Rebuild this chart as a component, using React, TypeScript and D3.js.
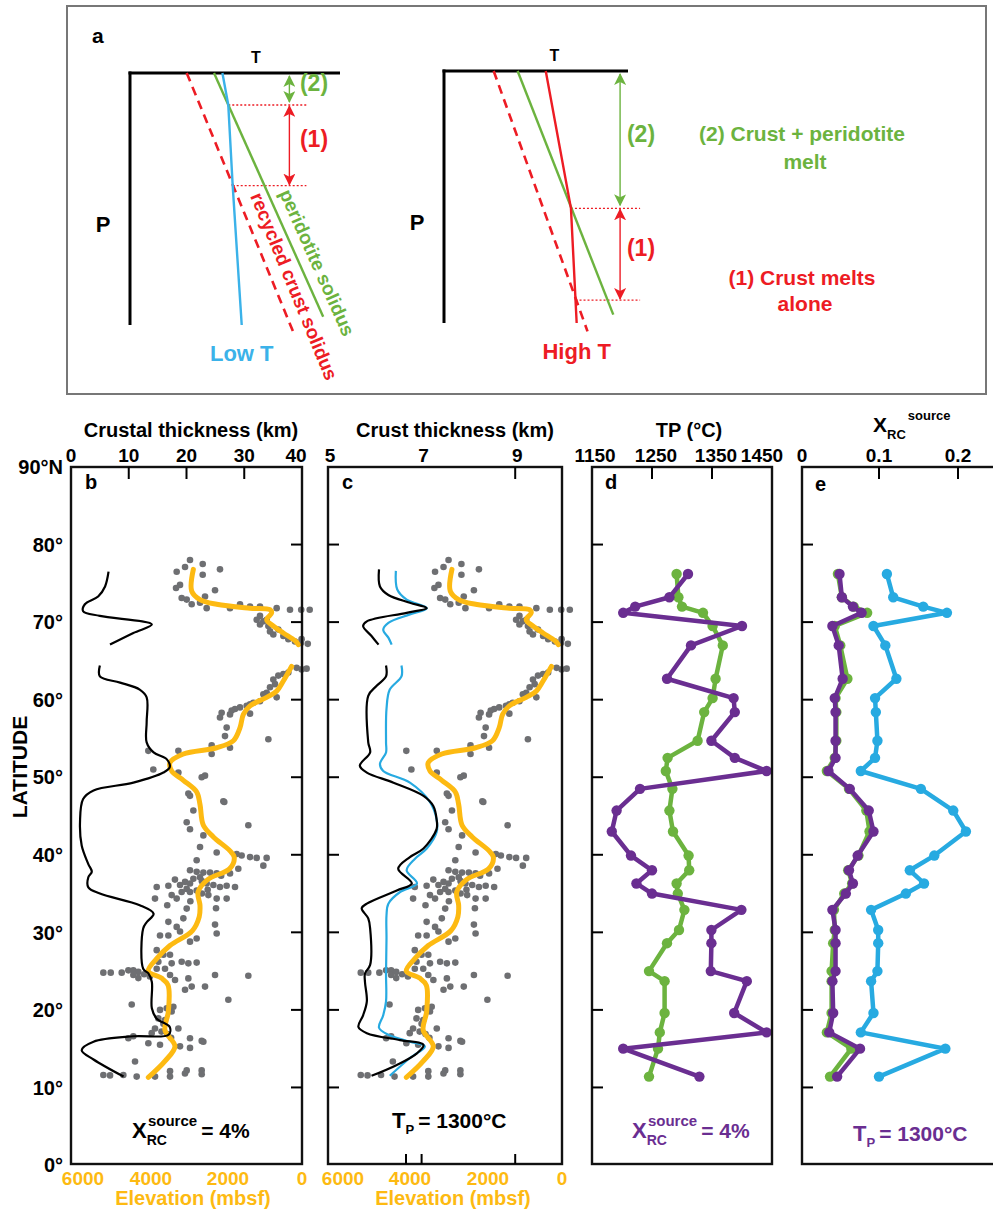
import * as d3 from "d3";

const FONT = "'Liberation Sans', Arial, Helvetica, sans-serif";
const ORANGE = "#FDBA12";
const GRAY = "#6E6F72";
const BLUE = "#27AAE1";
const GREEN = "#6CB33F";
const PURPLE = "#6A2E91";
const RED = "#ED1C24";

type Pt = [number, number];

// ---- panel a: schematic, normalized T (0-1) and P (0-1)
const peridotiteSolidus: Pt[] = [[0.4, 0], [0.92, 0.967]];
const crustSolidus: Pt[] = [[0.27, 0], [0.78, 1.033]];
const lowTGeotherm: Pt[] = [[0.44, 0], [0.468, 0.127], [0.489, 0.447], [0.532, 1]];
const highTGeotherm: Pt[] = [[0.553, 0], [0.69, 0.545], [0.721, 1]];
const lowTLevels = [0.127, 0.447];
const highTLevels = [0.545, 0.909];

// ---- latitude axis
const latTicks = [10, 20, 30, 40, 50, 60, 70, 80];
const latLabels = [0, 10, 20, 30, 40, 50, 60, 70, 80, 90];

// ---- panels b, c: ridge elevation (lat, mbsf)
const elevationSites: Pt[] = [
  [78.0, 2909], [77.5, 2579], [77.1, 3038], [76.5, 3255], [76.1, 2579], [76.8, 2130], [74.8, 3168], [74.4, 3272],
  [74.1, 2259], [73.1, 3125], [72.9, 2995], [72.3, 2865], [72.5, 2649], [71.8, 2476], [73.3, 2519], [71.8, 1870],
  [72.3, 1610], [72.0, 1350], [72.0, 1091], [71.8, 658], [71.6, 312], [71.6, 20], [71.6, -200],
  [70.8, 1091], [70.3, 1177], [70.1, 1004], [70.3, 918], [69.7, 1091], [69.5, 874], [68.8, 831], [69.05, 615],
  [68.4, 745], [68.2, 485], [67.8, 355], [67.5, 182], [67.8, 10], [67.3, 30], [67.2, -150],
  [64.1, 139], [63.9, 10], [64.0, -120], [63.5, 355], [63.3, 485], [63.1, 615], [62.6, 745], [62.0, 701], [61.6, 831],
  [60.9, 918], [60.7, 1004], [60.3, 658], [59.8, 1091], [59.6, 1264], [59.4, 1350], [59.2, 1437], [59.0, 1610],
  [58.8, 1740], [58.6, 1827], [58.1, 1870], [58.3, 2087], [57.7, 2130], [58.2, 1350], [56.4, 1957], [55.3, 2000],
  [53.8, 1870], [54.1, 2346], [53.0, 2346], [53.4, 3211], [54.9, 874], [50.2, 2519], [47.9, 2952], [50.6, 3211],
  [53.4, 3992], [51.0, 3862], [50.0, 2605], [47.6, 2909], [46.8, 2018],
  [46.9, 2043], [45.7, 2822], [44.2, 2995], [43.3, 2909], [43.8, 1394], [42.5, 2562], [41.0, 2649], [40.3, 2216],
  [40.1, 1697], [39.9, 1567], [39.7, 1350], [39.6, 1177], [39.6, 918], [38.6, 1004], [39.3, 2736], [38.2, 1654],
  [37.6, 1870], [38.0, 2909], [37.8, 2736], [37.7, 2562], [37.7, 2389], [37.6, 2216], [37.1, 2649], [36.9, 2822],
  [35.85, 3774], [36.0, 3471], [36.1, 3168], [36.5, 3038], [36.3, 2909], [35.6, 2995], [35.2, 3125], [35.2, 2909],
  [35.4, 2736], [36.3, 2476], [36.1, 2302], [35.85, 2130], [36.0, 1957], [35.85, 1740], [34.8, 3385], [34.35, 3818],
  [34.35, 3255], [34.8, 2432], [34.35, 2216], [34.35, 1957], [33.1, 2233], [33.06, 2995], [31.8, 3082], [31.35, 3471],
  [30.7, 3255], [29.6, 3688], [29.6, 3471], [28.8, 2909], [29.2, 2736], [30.1, 3168], [31.0, 2259], [29.85, 2216],
  [36.8, 3300], [36.6, 2600], [35.5, 2450], [37.3, 2100], [35.0, 2600], [34.0, 2900], [33.5, 3500],
  [27.7, 3774], [27.1, 3601], [27.1, 3428], [26.2, 3731], [26.0, 3385], [26.2, 3125], [26.0, 2952], [26.1, 2736],
  [25.3, 3774], [25.3, 3558], [24.5, 3428], [24.5, 2259], [24.4, 1394], [24.8, 5160], [24.8, 4968], [24.8, 4683],
  [25.1, 4510], [25.1, 4381], [24.9, 4251], [24.5, 4381], [24.1, 4251], [24.3, 3950], [24.6, 4100], [23.85, 3298],
  [24.06, 2952], [23.0, 2519], [23.0, 2865], [22.6, 3038], [21.3, 1913], [20.7, 4423], [20.0, 3688], [20.2, 3514],
  [20.4, 3341], [19.8, 3385], [18.9, 3731], [18.7, 3558], [17.6, 3818], [17.6, 3211], [17.0, 3904], [17.2, 3650],
  [16.9, 3500], [16.4, 3400], [18.2, 3600], [16.6, 4381], [16.35, 4510], [16.35, 2909], [15.9, 2562], [15.7, 3991],
  [15.5, 3688], [15.3, 3168], [15.1, 2909], [16.0, 2605], [13.35, 4337], [11.6, 5160], [11.55, 4986], [11.6, 4640],
  [11.4, 4294], [11.4, 3818], [12.1, 3428], [11.4, 3428], [12.2, 2995], [12.2, 2606], [11.8, 3039], [11.7, 2605],
];

// smoothed elevation (lat, mbsf), two segments
const elevationNorth: Pt[] = [
  [76.8, 2822], [74.0, 2865], [72.9, 2649], [72.3, 2216], [71.8, 1350], [71.6, 831], [71.2, 788], [70.3, 918],
  [69.5, 745], [68.6, 485], [67.6, 182], [67.1, 95],
];
const elevationSouth: Pt[] = [
  [64.3, 268], [62.4, 485], [61.1, 658], [60.3, 918], [59.2, 1350], [58.1, 1523], [56.4, 1610], [54.7, 1783],
  [53.8, 2216], [53.0, 3082], [51.9, 3428], [50.8, 3385], [49.6, 3082], [48.1, 2735], [46.5, 2650], [43.8, 2562],
  [42.3, 2302], [40.5, 1870], [39.7, 1760], [38.2, 1880], [36.8, 2450], [35.2, 2700], [33.5, 2650], [32.0, 2670],
  [30.2, 2850], [28.3, 3429], [26.6, 3774], [25.0, 3992], [24.1, 3650], [23.2, 3480], [19.8, 3471], [17.4, 3560],
  [15.3, 3300], [13.4, 3560], [11.3, 3992],
];

// panel b: crustal thickness (lat, km), X_RC = 4%
const crustB1: Pt[] = [
  [76.5, 6.5], [74.6, 5.9], [73.3, 4.7], [72.3, 2.4], [71.4, 2.1], [70.8, 5.0], [69.7, 14.0], [68.6, 10.8], [67.1, 6.75],
];
const crustB2: Pt[] = [
  [64.4, 5.0], [63.0, 5.0], [62.2, 8.5], [61.3, 11.9], [60.3, 13.1], [57.1, 13.1], [54.5, 13.1], [53.2, 14.3],
  [52.3, 16.6], [51.3, 17.1], [50.6, 16.0], [49.3, 10.8], [48.3, 3.9], [47.2, 2.1], [44.2, 1.56], [41.2, 1.85],
  [38.8, 3.0], [37.8, 3.6], [37.1, 3.0], [35.8, 3.0], [35.0, 5.0], [33.5, 11.9], [32.4, 14.3], [31.3, 13.1],
  [30.5, 12.5], [25.3, 12.5], [24.7, 13.4], [23.6, 14.0], [20.2, 14.0], [18.9, 14.8], [17.8, 17.1], [16.8, 16.9],
  [16.6, 10.8], [15.9, 3.9], [14.8, 1.85], [13.6, 3.9], [11.4, 9.1],
];

// panel c: crust thickness (lat, km), Tp = 1300 C
const crustC1Black: Pt[] = [
  [76.8, 6.09], [74.6, 6.11], [73.5, 6.29], [72.5, 6.75], [71.8, 7.11], [71.2, 6.68], [70.1, 5.83], [69.5, 5.75],
  [68.2, 5.93], [67.1, 6.08],
];
const crustC2Black: Pt[] = [
  [64.4, 6.24], [63.0, 6.24], [61.8, 6.04], [60.5, 5.86], [54.5, 5.86], [53.2, 5.9], [51.5, 5.68], [50.6, 5.83],
  [49.3, 6.4], [47.6, 7.04], [46.3, 7.25], [44.6, 7.32], [43.3, 7.32], [40.8, 7.04], [39.7, 6.75], [38.2, 6.5],
  [36.3, 6.79], [35.4, 6.47], [33.7, 5.83], [33.1, 5.72], [31.8, 5.86], [30.5, 5.9], [25.8, 5.9], [24.7, 5.79],
  [23.6, 5.79], [21.1, 5.83], [19.3, 5.75], [17.8, 5.65], [17.0, 5.83], [16.1, 6.54], [15.5, 7.04], [14.4, 6.9],
  [12.9, 6.47], [11.5, 5.93],
];
const crustC1Blue: Pt[] = [
  [76.6, 6.45], [74.2, 6.48], [72.9, 6.68], [71.8, 7.11], [71.0, 6.75], [69.9, 6.29], [69.0, 6.18], [68.0, 6.29],
  [67.1, 6.36],
];
const crustC2Blue: Pt[] = [
  [64.4, 6.57], [63.0, 6.57], [61.3, 6.32], [58.8, 6.25], [54.5, 6.24], [53.2, 6.24], [51.7, 6.11], [50.8, 6.18],
  [49.3, 6.75], [46.8, 7.18], [44.6, 7.32], [42.9, 7.32], [40.8, 7.11], [39.5, 6.86], [38.0, 6.68], [36.3, 6.9],
  [35.2, 6.54], [33.7, 6.29], [32.2, 6.25], [29.2, 6.25], [24.7, 6.24], [21.1, 6.24], [19.3, 6.18], [17.7, 6.09],
  [16.8, 6.29], [15.9, 6.75], [15.3, 7.07], [13.8, 6.75], [11.5, 6.32],
];

// panels d, e: segment latitudes
const segmentLat = [
  76.2, 73.2, 72.0, 71.2, 69.5, 67.0, 62.7, 60.2, 58.4, 54.7, 52.5, 50.8, 48.5, 45.7, 43.0, 39.9, 38.0, 36.3,
  35.0, 32.9, 30.3, 28.6, 25.0, 23.7, 19.6, 17.1, 15.0, 11.4,
];
// panel d: mantle potential temperature (C)
const tpGreen = [
  1291, 1294, 1300, 1335, 1351, 1368, 1356, 1351, 1337, 1326, 1276, 1273, 1284, 1279, 1285, 1311, 1312, 1291,
  1293, 1304, 1295, 1275, 1245, 1271, 1271, 1263, 1260, 1245,
];
const tpPurple = [
  1310, 1279, 1222, 1202, 1400, 1315, 1275, 1386, 1388, 1349, 1388, 1441, 1230, 1191, 1183, 1215, 1250, 1224,
  1250, 1399, 1349, 1349, 1348, 1408, 1387, 1441, 1202, 1329,
];
// panel e: recycled crust fraction in source
const xrcGreen = [
  0.048, 0.053, 0.068, 0.085, 0.044, 0.051, 0.06, 0.045, 0.046, 0.046, 0.044, 0.034, 0.062, 0.084, 0.088, 0.074,
  0.061, 0.066, 0.056, 0.043, 0.044, 0.042, 0.04, 0.04, 0.04, 0.034, 0.065, 0.038,
];
const xrcPurple = [
  0.05, 0.053, 0.067, 0.078, 0.041, 0.049, 0.054, 0.044, 0.045, 0.045, 0.045, 0.036, 0.063, 0.087, 0.093, 0.073,
  0.062, 0.067, 0.058, 0.041, 0.045, 0.045, 0.045, 0.041, 0.042, 0.037, 0.076, 0.047,
];
const xrcBlue = [
  0.11, 0.118, 0.156, 0.186, 0.093, 0.108, 0.122, 0.095, 0.096, 0.098, 0.095, 0.077, 0.153, 0.194, 0.21, 0.17,
  0.139, 0.157, 0.134, 0.09, 0.099, 0.099, 0.098, 0.09, 0.093, 0.077, 0.184, 0.1,
];

const TOP = 467;
const BOTTOM = 1164;
const yLat = d3.scaleLinear().domain([0, 90]).range([1165, 467]);

function Schematic({ x0, x1, y0, y1, geotherm, levels, arrowX, labelX, geoColor, geoLabel, left }: any) {
  const t = d3.scaleLinear().domain([0, 1]).range([x0, x1]);
  const p = d3.scaleLinear().domain([0, 1]).range([y0, y1]);
  const line = d3.line<Pt>().x((d) => t(d[0])).y((d) => p(d[1]));
  const crossT = (pts: Pt[], pv: number) => {
    for (let i = 1; i < pts.length; i++) {
      const [a, b] = [pts[i - 1], pts[i]];
      if (pv >= a[1] && pv <= b[1]) return a[0] + ((pv - a[1]) / (b[1] - a[1])) * (b[0] - a[0]);
    }
    return pts[pts.length - 1][0];
  };
  const lvlEnd = t.invert(t(arrowX) + (left ? 17 : 20));
  return (
    <g>
      <line x1={t(0)} x2={t(0)} y1={p(0) - 1.5} y2={p(1)} stroke="#000" strokeWidth={3} />
      <line x1={t(0) - 1.5} x2={t(1)} y1={p(0)} y2={p(0)} stroke="#000" strokeWidth={3} />
      <text x={t(0.6)} y={p(0) - 10} fontSize={16} textAnchor="middle">T</text>
      <text x={t(0) - 27} y={p(0.6) + 8} fontSize={22} textAnchor="middle">P</text>
      {levels.map((lv: number, i: number) => (
        <line key={i} x1={t(crossT(geotherm, lv))} x2={t(lvlEnd)} y1={p(lv)} y2={p(lv)}
          stroke={RED} strokeWidth={1.3} strokeDasharray="2,2" />
      ))}
      <path d={line(crustSolidus) || ""} fill="none" stroke={RED} strokeWidth={2.6} strokeDasharray="9,6" />
      <path d={line(peridotiteSolidus) || ""} fill="none" stroke={GREEN} strokeWidth={2.4} />
      <path d={line(geotherm) || ""} fill="none" stroke={geoColor} strokeWidth={2.4} />
      <line x1={t(arrowX)} x2={t(arrowX)} y1={p(0) + 3} y2={p(levels[0]) - 3} stroke={GREEN} strokeWidth={1.4}
        markerStart="url(#ahG)" markerEnd="url(#ahG)" />
      <line x1={t(arrowX)} x2={t(arrowX)} y1={p(levels[0]) + 1} y2={p(levels[1]) - 1} stroke={RED} strokeWidth={1.4}
        markerStart="url(#ahR)" markerEnd="url(#ahR)" />
      <text x={labelX} y={(p(0) + p(levels[0])) / 2 + 2} fontSize={23} fill={GREEN} textAnchor="middle">(2)</text>
      <text x={labelX} y={(p(levels[0]) + p(levels[1])) / 2 + 2} fontSize={23} fill={RED} textAnchor="middle">(1)</text>
      <text x={t(geotherm[geotherm.length - 1][0])} y={p(1) + 36} fontSize={22} fill={geoColor} textAnchor="middle">{geoLabel}</text>
    </g>
  );
}

function LatTicks({ x, dir }: { x: number; dir: number }) {
  return (
    <g>
      {latTicks.map((v) => (
        <line key={v} x1={x} x2={x + dir * 11} y1={yLat(v)} y2={yLat(v)} stroke="#000" strokeWidth={2} />
      ))}
    </g>
  );
}

function TopTicks({ scale, values }: any) {
  return (
    <g>
      {values.map((v: number) => (
        <line key={v} x1={scale(v)} x2={scale(v)} y1={TOP} y2={TOP + 12} stroke="#000" strokeWidth={2} />
      ))}
    </g>
  );
}

function Frame({ x0, x1 }: { x0: number; x1: number }) {
  return <rect x={x0} y={TOP} width={x1 - x0} height={BOTTOM - TOP} fill="none" stroke="#111" strokeWidth={2.4} />;
}

function ElevationPanel({ xElev, xThick, lines }: any) {
  const elevLine = d3.line<Pt>().x((d) => xElev(d[1])).y((d) => yLat(d[0])).curve(d3.curveCatmullRom.alpha(0.5));
  const thickLine = d3.line<Pt>().x((d) => xThick(d[1])).y((d) => yLat(d[0])).curve(d3.curveCatmullRom.alpha(0.5));
  return (
    <g>
      {elevationSites.map((d, i) => (
        <circle key={i} cx={xElev(d[1])} cy={yLat(d[0])} r={3.3} fill={GRAY} />
      ))}
      {[elevationNorth, elevationSouth].map((seg, i) => (
        <path key={i} d={elevLine(seg) || ""} fill="none" stroke={ORANGE} strokeWidth={5} strokeLinecap="round" />
      ))}
      {lines.map((l: any, i: number) => (
        <path key={i} d={thickLine(l.data) || ""} fill="none" stroke={l.color} strokeWidth={2.2} />
      ))}
    </g>
  );
}

function ProfilePanel({ xs, series }: any) {
  const line = d3.line<number>().x((d) => xs(d)).y((_d, i) => yLat(segmentLat[i]));
  return (
    <g>
      {series.map((s: any, k: number) => (
        <g key={k}>
          <path d={line(s.values) || ""} fill="none" stroke={s.color} strokeWidth={4.5} strokeLinejoin="round" />
          {s.values.map((v: number, i: number) => (
            <circle key={i} cx={xs(v)} cy={yLat(segmentLat[i])} r={5.2} fill={s.color} />
          ))}
        </g>
      ))}
    </g>
  );
}

export default function App() {
  const xThickB = d3.scaleLinear().domain([0, 40]).range([71, 302]);
  const xElevB = d3.scaleLinear().domain([6000, 0]).range([71, 302]);
  const xThickC = d3.scaleLinear().domain([5, 10]).range([328, 562]);
  const xElevC = d3.scaleLinear().domain([6000, 0]).range([328, 562]);
  const xTP = d3.scaleLinear().domain([1150, 1450]).range([592, 772]);
  const xXrc = d3.scaleLinear().domain([0, 0.25]).range([800, 997.5]);

  return (
    <svg width={993} height={1211} style={{ position: "absolute", left: 0, top: 0, background: "#fff" }}
      fontFamily={FONT} fontWeight="bold">
      <defs>
        <marker id="ahR" viewBox="0 0 12 12" refX={11} refY={6} markerWidth={12} markerHeight={12}
          markerUnits="userSpaceOnUse" orient="auto-start-reverse">
          <path d="M0,0 L12,6 L0,12 L3,6 z" fill={RED} />
        </marker>
        <marker id="ahG" viewBox="0 0 12 12" refX={11} refY={6} markerWidth={12} markerHeight={12}
          markerUnits="userSpaceOnUse" orient="auto-start-reverse">
          <path d="M0,0 L12,6 L0,12 L3,6 z" fill={GREEN} />
        </marker>
      </defs>

      {/* ---------------- panel a ---------------- */}
      <rect x={67} y={6} width={919} height={388} fill="none" stroke="#777" strokeWidth={2} />
      <text x={92} y={43} fontSize={21}>a</text>
      <Schematic x0={130} x1={340} y0={73} y1={325} geotherm={lowTGeotherm} levels={lowTLevels}
        arrowX={0.759} labelX={314} geoColor="#3BB2E9" geoLabel="Low T" left />
      <Schematic x0={444} x1={628} y0={71} y1={323} geotherm={highTGeotherm} levels={highTLevels}
        arrowX={0.957} labelX={641} geoColor={RED} geoLabel="High T" />
      <text transform="translate(279,193) rotate(66)" fontSize={19} fill={GREEN}>peridotite solidus</text>
      <text transform="translate(250,196) rotate(67.7)" fontSize={19} fill={RED}>recycled crust solidus</text>
      <g fontSize={21} textAnchor="middle">
        <text x={802} y={141} fill={GREEN}>(2) Crust + peridotite</text>
        <text x={805} y={169} fill={GREEN}>melt</text>
        <text x={802} y={285} fill={RED}>(1) Crust melts</text>
        <text x={805} y={311} fill={RED}>alone</text>
      </g>

      {/* ---------------- latitude axis ---------------- */}
      {latLabels.map((v) => (
        <text key={v} x={63} y={yLat(v)} dy="0.36em" fontSize={20} textAnchor="end">
          {v === 90 ? "90°N" : `${v}°`}
        </text>
      ))}
      <text transform="translate(27,767) rotate(-90)" fontSize={21} textAnchor="middle">LATITUDE</text>

      {/* ---------------- panel b ---------------- */}
      <text x={191} y={430} dy="0.36em" fontSize={20} textAnchor="middle">Crustal thickness (km)</text>
      {[0, 10, 20, 30, 40].map((v) => (
        <text key={v} x={xThickB(v) - (v === 40 ? 6 : 0)} y={455} dy="0.36em" fontSize={19} textAnchor="middle">{v}</text>
      ))}
      <ElevationPanel xElev={xElevB} xThick={xThickB}
        lines={[{ data: crustB1, color: "#000" }, { data: crustB2, color: "#000" }]} />
      <Frame x0={71} x1={302} />
      <TopTicks scale={xThickB} values={[10, 20, 30]} />
      <LatTicks x={302} dir={-1} />
      <text x={85} y={482} dy="0.36em" fontSize={20}>b</text>
      <text x={132} y={1138} fontSize={22}>
        X<tspan fontSize={14} dy={7}>RC</tspan>
        <tspan fontSize={15} dx={-19} dy={-19}>source</tspan>
        <tspan fontSize={21} dy={12} dx={4}>= 4%</tspan>
      </text>
      {[6000, 4000, 2000, 0].map((v) => (
        <text key={v} x={xElevB(v) + (v === 6000 ? 12 : v === 0 ? 0 : 3)} y={1178} dy="0.36em" fontSize={19}
          textAnchor="middle" fill={ORANGE}>{v}</text>
      ))}
      <text x={193} y={1198} dy="0.36em" fontSize={20} textAnchor="middle" fill={ORANGE}>Elevation (mbsf)</text>

      {/* ---------------- panel c ---------------- */}
      <text x={455} y={430} dy="0.36em" fontSize={20} textAnchor="middle">Crust thickness (km)</text>
      {[5, 7, 9].map((v) => (
        <text key={v} x={xThickC(v) + 2} y={455} dy="0.36em" fontSize={19} textAnchor="middle">{v}</text>
      ))}
      <ElevationPanel xElev={xElevC} xThick={xThickC}
        lines={[
          { data: crustC1Blue, color: BLUE }, { data: crustC2Blue, color: BLUE },
          { data: crustC1Black, color: "#000" }, { data: crustC2Black, color: "#000" },
        ]} />
      <Frame x0={328} x1={562} />
      <TopTicks scale={xThickC} values={[9]} />
      {[7, 9].map((v) => (
        <line key={v} x1={xThickC(v)} x2={xThickC(v)} y1={BOTTOM} y2={BOTTOM - 10} stroke="#000" strokeWidth={2} />
      ))}
      <line x1={xElevC(4000)} x2={xElevC(4000)} y1={BOTTOM} y2={BOTTOM - 10} stroke="#000" strokeWidth={2} />
      <LatTicks x={328} dir={1} />
      <text x={342} y={482} dy="0.36em" fontSize={20}>c</text>
      <text x={392} y={1128} fontSize={22}>
        T<tspan fontSize={13} dy={6}>P</tspan>
        <tspan fontSize={21} dy={-6} dx={4}>= 1300°C</tspan>
      </text>
      {[6000, 4000, 2000, 0].map((v) => (
        <text key={v} x={xElevC(v) + (v === 6000 ? 15 : v === 0 ? 0 : 4)} y={1178} dy="0.36em" fontSize={19}
          textAnchor="middle" fill={ORANGE}>{v}</text>
      ))}
      <text x={453} y={1198} dy="0.36em" fontSize={20} textAnchor="middle" fill={ORANGE}>Elevation (mbsf)</text>

      {/* ---------------- panel d ---------------- */}
      <text x={689} y={430} dy="0.36em" fontSize={20} textAnchor="middle">TP (°C)</text>
      {[1150, 1250, 1350, 1450].map((v) => (
        <text key={v} x={xTP(v) + (v === 1450 ? -10 : v === 1150 ? 3 : 4)} y={455} dy="0.36em" fontSize={19}
          textAnchor="middle">{v}</text>
      ))}
      <ProfilePanel xs={xTP} series={[{ values: tpGreen, color: GREEN }, { values: tpPurple, color: PURPLE }]} />
      <Frame x0={592} x1={772} />
      <TopTicks scale={xTP} values={[1250, 1350]} />
      <LatTicks x={592} dir={1} />
      <text x={605} y={482} dy="0.36em" fontSize={20}>d</text>
      <text x={632} y={1138} fontSize={22} fill={PURPLE}>
        X<tspan fontSize={14} dy={7}>RC</tspan>
        <tspan fontSize={15} dx={-19} dy={-19}>source</tspan>
        <tspan fontSize={21} dy={12} dx={4}>= 4%</tspan>
      </text>

      {/* ---------------- panel e ---------------- */}
      <text x={873} y={432} fontSize={21}>
        X<tspan fontSize={13} dy={7}>RC</tspan>
        <tspan fontSize={13} dy={-19} dx={2}>source</tspan>
      </text>
      {[0, 0.1, 0.2].map((v) => (
        <text key={v} x={xXrc(v) + (v === 0 ? 2 : 0)} y={455} dy="0.36em" fontSize={19} textAnchor="middle">{v}</text>
      ))}
      <ProfilePanel xs={xXrc}
        series={[{ values: xrcBlue, color: BLUE }, { values: xrcGreen, color: GREEN }, { values: xrcPurple, color: PURPLE }]} />
      <rect x={802} y={TOP} width={220} height={BOTTOM - TOP} fill="none" stroke="#111" strokeWidth={2.4} />
      <TopTicks scale={xXrc} values={[0.1, 0.2]} />
      <LatTicks x={802} dir={1} />
      <text x={815} y={484} dy="0.36em" fontSize={20}>e</text>
      <text x={853} y={1141} fontSize={22} fill={PURPLE}>
        T<tspan fontSize={13} dy={6}>P</tspan>
        <tspan fontSize={21} dy={-6} dx={4}>= 1300°C</tspan>
      </text>
    </svg>
  );
}
